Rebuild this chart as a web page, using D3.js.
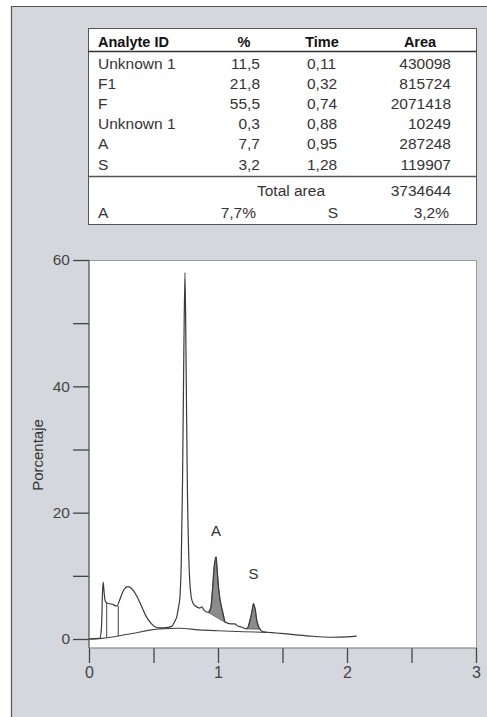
<!DOCTYPE html>
<html><head><meta charset="utf-8">
<script src="https://cdn.jsdelivr.net/npm/d3@7"></script>
<style>
html,body{margin:0;padding:0;background:#fff;}
svg{display:block;}
text{font-family:"Liberation Sans",Arial,sans-serif;}
</style></head>
<body>
<svg id="c" width="487" height="717"></svg>
<script>
// ---- Table data ----
const analyteIds = ["Unknown 1","F1","F","Unknown 1","A","S"];
const percents   = ["11,5","21,8","55,5","0,3","7,7","3,2"];
const times      = ["0,11","0,32","0,74","0,88","0,95","1,28"];
const areas      = ["430098","815724","2071418","10249","287248","119907"];
const headers    = ["Analyte ID","%","Time","Area"];
const totalArea  = "3734644";
const summary    = [["A","7,7%"],["S","3,2%"]];

// ---- Chromatogram data (time, %) ----
const traceT = [0.00,0.05,0.085,0.097,0.105,0.11,0.117,0.126,0.138,0.18,0.215,0.24,0.27,0.30,0.33,0.37,0.40,0.44,0.48,0.51,0.55,0.60,0.64,0.665,0.68,0.695,0.705,0.715,0.725,0.735,0.744,0.752,0.762,0.775,0.79,0.80,0.82,0.86,0.875,0.89,0.925,0.945,0.96,0.97,0.985,0.995,1.005,1.016,1.036,1.055,1.10,1.13,1.15,1.18,1.22,1.235,1.26,1.275,1.29,1.30,1.32,1.35,1.45,1.53,1.71,1.89,2.0,2.075];
const traceV = [0.0,0.05,0.15,2.0,7.5,9.0,7.4,6.0,5.7,5.5,5.2,6.3,7.8,8.3,8.0,6.8,5.5,3.7,2.5,1.95,1.75,1.8,2.0,2.8,3.5,5.2,6.7,12,25,45,58,45,25,12,7.0,6.0,5.3,4.9,5.1,4.6,4.2,5.0,8.5,11.4,13.0,10.5,8.0,6.2,4.3,2.7,2.4,2.4,2.1,1.9,1.6,2.0,4.0,5.6,4.5,3.0,1.7,1.15,0.95,0.8,0.47,0.28,0.35,0.47];
const baseT = [0.0,0.1,0.3,0.55,0.7,0.85,1.0,1.2,1.38];
const baseV = [0.0,0.1,0.75,1.6,1.7,1.45,1.3,1.15,1.05];
const dropT = [0.137,0.227];
const dropTop = [5.7,5.25];
const dropBottom = [0.15,0.45];
const peakNames = ["A","S"];
const peakStart = [0.925,1.222];
const peakEnd   = [1.058,1.33];
const peakStartV = [4.2,1.6];
const peakEndV   = [2.6,1.55];
const peakLabelT = [0.985,1.275];
const peakLabelV = [16.3,9.5];

const yTicks = [0,10,20,30,40,50,60];
const xTicks = [0,0.5,1,1.5,2,2.5,3];
const yLabel = "Porcentaje";

// ---- Drawing ----
const svg = d3.select("#c");
svg.append("rect").attr("x",11).attr("y",6).attr("width",476).attr("height",711).attr("fill","#d4d7dc");
svg.append("path").attr("d","M11.5,717 V6.5 H487").attr("fill","none").attr("stroke","#555").attr("stroke-width",1.2);

// table
const tb = svg.append("g");
tb.append("rect").attr("x",88.5).attr("y",28.5).attr("width",388).attr("height",196).attr("fill","#fff").attr("stroke","#555").attr("stroke-width",1);
tb.append("line").attr("x1",88.5).attr("x2",476.5).attr("y1",51.5).attr("y2",51.5).attr("stroke","#333").attr("stroke-width",1.3);
tb.append("line").attr("x1",88.5).attr("x2",476.5).attr("y1",176.5).attr("y2",176.5).attr("stroke","#555").attr("stroke-width",1.3);
const hx = [98,244,322,420], ha = ["start","middle","middle","middle"];
headers.forEach((h,i)=>tb.append("text").attr("x",hx[i]).attr("y",47).attr("text-anchor",ha[i])
  .attr("font-size",14.5).attr("font-weight","bold").attr("fill","#111").text(h));
const rowY = i => 69 + 20.1*i;
const fs = 15.5, tc = "#333";
analyteIds.forEach((d,i)=>{
  tb.append("text").attr("x",98).attr("y",rowY(i)).attr("font-size",fs).attr("fill",tc).text(d);
  tb.append("text").attr("x",260).attr("y",rowY(i)).attr("text-anchor","end").attr("font-size",fs).attr("fill",tc).text(percents[i]);
  tb.append("text").attr("x",307).attr("y",rowY(i)).attr("font-size",fs).attr("fill",tc).text(times[i]);
  tb.append("text").attr("x",451).attr("y",rowY(i)).attr("text-anchor","end").attr("font-size",fs).attr("fill",tc).text(areas[i]);
});
tb.append("text").attr("x",291).attr("y",195.5).attr("text-anchor","middle").attr("font-size",fs).attr("fill",tc).text("Total area");
tb.append("text").attr("x",451).attr("y",195.5).attr("text-anchor","end").attr("font-size",fs).attr("fill",tc).text(totalArea);
tb.append("text").attr("x",98).attr("y",217.5).attr("font-size",fs).attr("fill",tc).text(summary[0][0]);
tb.append("text").attr("x",256).attr("y",217.5).attr("text-anchor","end").attr("font-size",fs).attr("fill",tc).text(summary[0][1]);
tb.append("text").attr("x",338).attr("y",217.5).attr("text-anchor","end").attr("font-size",fs).attr("fill",tc).text(summary[1][0]);
tb.append("text").attr("x",449).attr("y",217.5).attr("text-anchor","end").attr("font-size",fs).attr("fill",tc).text(summary[1][1]);

// chart
const x = d3.scaleLinear().domain([0,3]).range([89,476]);
const y = d3.scaleLinear().domain([0,60]).range([639,260]);
const plotBottom = 648;
svg.append("rect").attr("x",89).attr("y",260).attr("width",387).attr("height",plotBottom-260).attr("fill","#fff");
svg.append("path").attr("d",`M89,260.5 H476.5 V${plotBottom}`).attr("fill","none").attr("stroke","#9a9a9a").attr("stroke-width",1);

const yAx = svg.append("g").attr("transform","translate(89,0)")
  .call(d3.axisLeft(y).tickValues(yTicks).tickSize(16).tickPadding(3).tickFormat(d=>d%20===0?d:""));
yAx.select(".domain").remove();
yAx.selectAll(".tick line").attr("stroke","#444").attr("stroke-width",1.3);
yAx.selectAll("text").attr("font-size",15.5).attr("fill","#444").attr("font-family","Liberation Sans, Arial, sans-serif");
svg.append("line").attr("x1",89).attr("x2",89).attr("y1",260).attr("y2",plotBottom).attr("stroke","#555").attr("stroke-width",1.3);

const xAx = svg.append("g").attr("transform",`translate(0,${plotBottom})`)
  .call(d3.axisBottom(x).tickValues(xTicks).tickSize(15).tickPadding(4).tickFormat(d=>Number.isInteger(d)?d:""));
xAx.select(".domain").remove();
xAx.selectAll(".tick line").attr("stroke","#444").attr("stroke-width",1.3);
xAx.selectAll("text").attr("font-size",16).attr("fill","#444").attr("font-family","Liberation Sans, Arial, sans-serif");
svg.append("line").attr("x1",89).attr("x2",476.5).attr("y1",plotBottom).attr("y2",plotBottom).attr("stroke","#777").attr("stroke-width",1.2);

svg.append("text").attr("transform",`translate(43,455) rotate(-90)`).attr("text-anchor","middle")
  .attr("font-size",15).attr("fill","#333").text(yLabel);

// chromatogram
const trace = traceT.map((t,i)=>[t,traceV[i]]);
const base = baseT.map((t,i)=>[t,baseV[i]]);
const line = d3.line().x(d=>x(d[0])).y(d=>y(d[1])).curve(d3.curveMonotoneX);

peakNames.forEach((n,k)=>{
  const pts = trace.filter(d=>d[0]>peakStart[k]&&d[0]<peakEnd[k]);
  const poly = [[peakStart[k],peakStartV[k]],...pts,[peakEnd[k],peakEndV[k]]];
  svg.append("path").attr("d", d3.line().x(d=>x(d[0])).y(d=>y(d[1]))(poly)+"Z")
    .attr("fill","#8c8c8c").attr("stroke","#555").attr("stroke-width",0.8);
  svg.append("text").attr("x",x(peakLabelT[k])).attr("y",y(peakLabelV[k])).attr("text-anchor","middle")
    .attr("font-size",15).attr("fill","#333").text(n);
});

svg.append("path").attr("d",line(base)).attr("fill","none").attr("stroke","#444").attr("stroke-width",1.1);
dropT.forEach((t,i)=>svg.append("line").attr("x1",x(t)).attr("x2",x(t)).attr("y1",y(dropTop[i])).attr("y2",y(dropBottom[i]))
  .attr("stroke","#444").attr("stroke-width",1));
svg.append("path").attr("d",line(trace)).attr("fill","none").attr("stroke","#3a3a3a").attr("stroke-width",1.2);
</script>
</body></html>
